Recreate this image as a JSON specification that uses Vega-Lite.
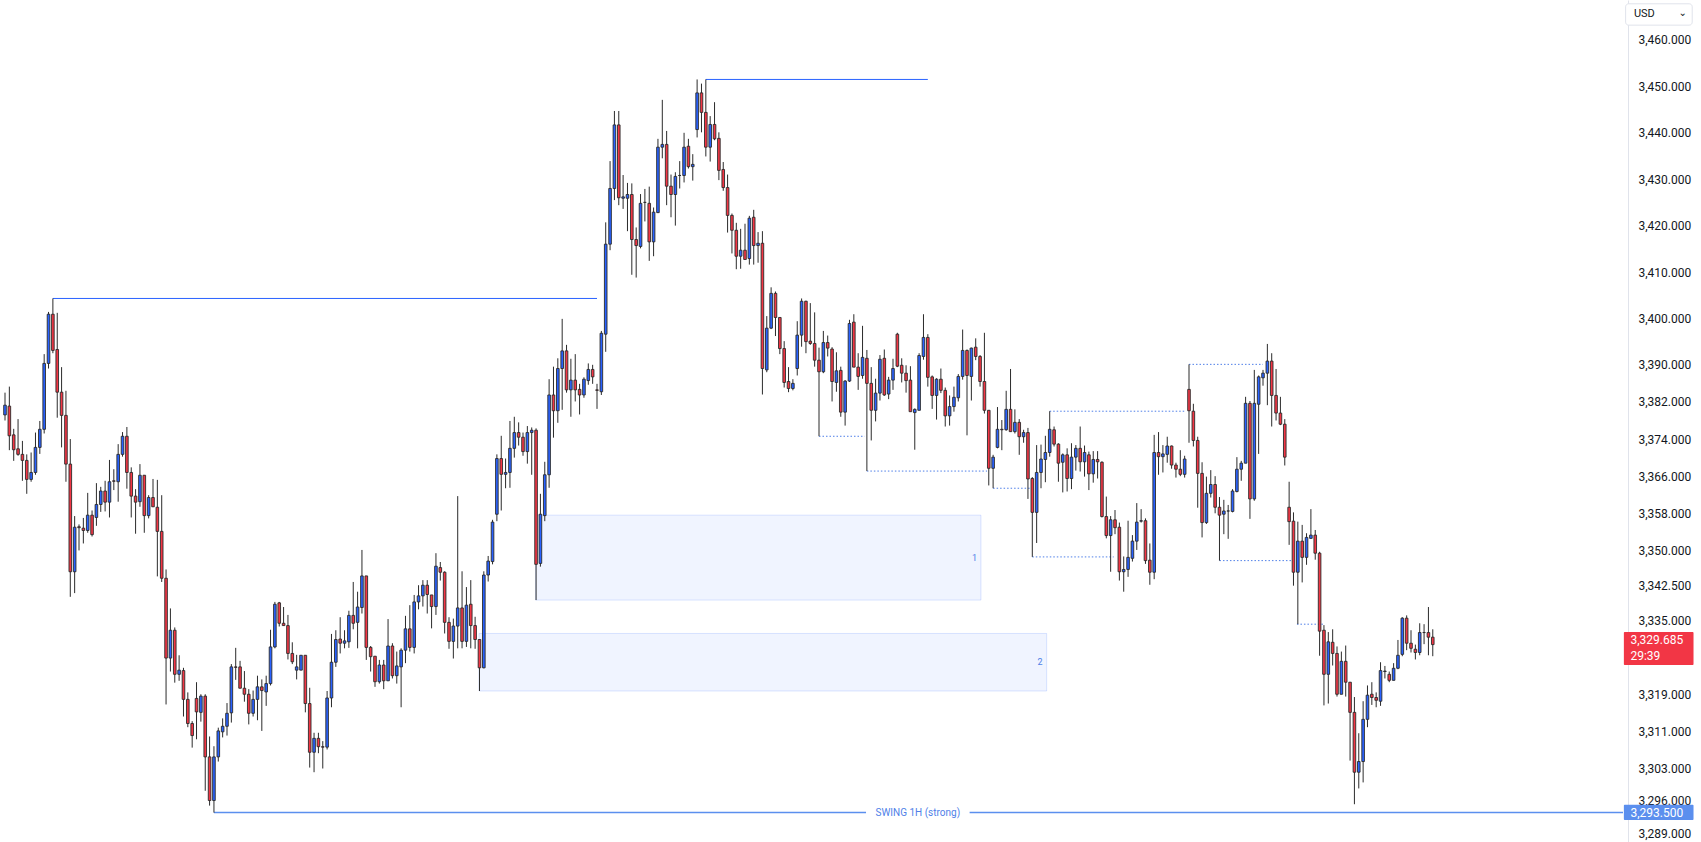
{
"$schema": "https://vega.github.io/schema/vega-lite/v6.json",
"width": 1628, "height": 842,
"autosize": {"type": "none"},
"padding": {"left": 0, "top": 0, "right": 73, "bottom": 0},
"background": "#ffffff",
"config": {"view": {"stroke": null}, "font": "Roboto"},
"resolve": {"axis": {"x": "independent", "y": "independent"}},
"datasets": {
"candles": [
{"i":0,"o":3379.2,"h":3384,"l":3378,"c":3381.3},
{"i":1,"o":3381.1,"h":3385.3,"l":3371.6,"c":3374.7},
{"i":2,"o":3374.9,"h":3376.2,"l":3369.3,"c":3371.7},
{"i":3,"o":3371.9,"h":3378.3,"l":3370.4,"c":3370.7},
{"i":4,"o":3370.7,"h":3373.6,"l":3365.0,"c":3369.4},
{"i":5,"o":3369.4,"h":3370.7,"l":3362.2,"c":3365.3},
{"i":6,"o":3365.3,"h":3371.1,"l":3364.8,"c":3366.8},
{"i":7,"o":3366.8,"h":3375.4,"l":3366.3,"c":3372.2},
{"i":8,"o":3372.2,"h":3377.9,"l":3370.8,"c":3376.1},
{"i":9,"o":3376.1,"h":3392.3,"l":3375.2,"c":3390.3},
{"i":10,"o":3390.3,"h":3401.4,"l":3389.2,"c":3400.9},
{"i":11,"o":3400.9,"h":3404.3,"l":3392.5,"c":3393.1},
{"i":12,"o":3393.3,"h":3401.2,"l":3378.6,"c":3384.1},
{"i":13,"o":3384.1,"h":3389.5,"l":3372.2,"c":3379.1},
{"i":14,"o":3379.1,"h":3384.4,"l":3364.8,"c":3368.6},
{"i":15,"o":3368.6,"h":3374.0,"l":3340.0,"c":3345.4},
{"i":16,"o":3345.4,"h":3357.4,"l":3340.8,"c":3355.0},
{"i":17,"o":3355.1,"h":3355.6,"l":3350.0,"c":3354.9},
{"i":18,"o":3354.8,"h":3357.0,"l":3351.5,"c":3354.3},
{"i":19,"o":3354.3,"h":3362.4,"l":3353.8,"c":3357.6},
{"i":20,"o":3357.6,"h":3358.6,"l":3353.0,"c":3353.4},
{"i":21,"o":3357.1,"h":3364.5,"l":3355.3,"c":3359.9},
{"i":22,"o":3359.9,"h":3363.7,"l":3358.3,"c":3362.8},
{"i":23,"o":3362.8,"h":3365.0,"l":3358.4,"c":3360.4},
{"i":24,"o":3360.4,"h":3369.5,"l":3357.1,"c":3364.8},
{"i":25,"o":3365.0,"h":3367.5,"l":3363.0,"c":3364.9},
{"i":26,"o":3364.8,"h":3372.9,"l":3360.5,"c":3370.7},
{"i":27,"o":3370.7,"h":3375.5,"l":3370.2,"c":3374.6},
{"i":28,"o":3374.6,"h":3376.6,"l":3363.3,"c":3366.8},
{"i":29,"o":3366.8,"h":3367.9,"l":3357.1,"c":3361.7},
{"i":30,"o":3361.7,"h":3363.2,"l":3353.6,"c":3360.4},
{"i":31,"o":3360.5,"h":3368.6,"l":3359.4,"c":3366.2},
{"i":32,"o":3366.2,"h":3366.2,"l":3353.8,"c":3357.5},
{"i":33,"o":3357.5,"h":3361.9,"l":3356.9,"c":3361.4},
{"i":34,"o":3361.4,"h":3365.4,"l":3359.4,"c":3359.4},
{"i":35,"o":3359.3,"h":3365.2,"l":3344.4,"c":3354.1},
{"i":36,"o":3354.1,"h":3361.9,"l":3343.2,"c":3344.0},
{"i":37,"o":3344.0,"h":3345.9,"l":3316.8,"c":3326.8},
{"i":38,"o":3326.8,"h":3337.5,"l":3323.9,"c":3332.8},
{"i":39,"o":3332.8,"h":3333.4,"l":3321.5,"c":3323.3},
{"i":40,"o":3323.3,"h":3327.4,"l":3321.9,"c":3324.2},
{"i":41,"o":3324.1,"h":3324.7,"l":3314.2,"c":3317.9},
{"i":42,"o":3317.9,"h":3319.4,"l":3311.9,"c":3312.7},
{"i":43,"o":3312.7,"h":3313.2,"l":3307.5,"c":3310.1},
{"i":44,"o":3318.1,"h":3321.6,"l":3309.3,"c":3315.2},
{"i":45,"o":3315.1,"h":3319.0,"l":3313.1,"c":3318.6},
{"i":46,"o":3318.6,"h":3319.0,"l":3298.2,"c":3305.5},
{"i":47,"o":3305.5,"h":3309.9,"l":3295.0,"c":3296.1},
{"i":48,"o":3296.1,"h":3307.8,"l":3293.5,"c":3305.5},
{"i":49,"o":3305.5,"h":3311.8,"l":3304.5,"c":3311.1},
{"i":50,"o":3310.9,"h":3313.8,"l":3309.7,"c":3312.1},
{"i":51,"o":3312.1,"h":3317.1,"l":3310.1,"c":3314.9},
{"i":52,"o":3315.0,"h":3325.5,"l":3312.9,"c":3324.9},
{"i":53,"o":3324.9,"h":3329.0,"l":3322.1,"c":3324.8},
{"i":54,"o":3324.9,"h":3326.2,"l":3320.3,"c":3320.3},
{"i":55,"o":3320.3,"h":3324.0,"l":3317.4,"c":3319.0},
{"i":56,"o":3319.0,"h":3320.1,"l":3312.5,"c":3314.9},
{"i":57,"o":3314.9,"h":3319.8,"l":3314.2,"c":3317.9},
{"i":58,"o":3317.9,"h":3323.0,"l":3313.4,"c":3320.6},
{"i":59,"o":3320.6,"h":3322.2,"l":3311.1,"c":3319.8},
{"i":60,"o":3319.5,"h":3323.0,"l":3316.5,"c":3321.3},
{"i":61,"o":3321.3,"h":3332.9,"l":3320.9,"c":3329.2},
{"i":62,"o":3329.2,"h":3338.9,"l":3328.9,"c":3338.4},
{"i":63,"o":3338.7,"h":3338.9,"l":3333.6,"c":3334.3},
{"i":64,"o":3334.3,"h":3337.8,"l":3333.8,"c":3333.8},
{"i":65,"o":3333.8,"h":3336.1,"l":3326.5,"c":3327.8},
{"i":66,"o":3327.8,"h":3330.2,"l":3325.5,"c":3326.0},
{"i":67,"o":3324.2,"h":3327.5,"l":3322.2,"c":3324.9},
{"i":68,"o":3324.2,"h":3327.4,"l":3324.2,"c":3327.4},
{"i":69,"o":3327.4,"h":3327.4,"l":3315.1,"c":3317.0},
{"i":70,"o":3317.0,"h":3320.4,"l":3303.2,"c":3306.5},
{"i":71,"o":3306.5,"h":3310.7,"l":3302.2,"c":3309.5},
{"i":72,"o":3309.5,"h":3310.7,"l":3306.3,"c":3307.7},
{"i":73,"o":3307.7,"h":3308.9,"l":3303.0,"c":3307.6},
{"i":74,"o":3307.6,"h":3319.7,"l":3307.1,"c":3318.2},
{"i":75,"o":3318.2,"h":3332.0,"l":3316.2,"c":3325.9},
{"i":76,"o":3325.9,"h":3332.8,"l":3324.9,"c":3330.8},
{"i":77,"o":3330.9,"h":3335.6,"l":3327.8,"c":3330.0},
{"i":78,"o":3330.0,"h":3332.8,"l":3328.9,"c":3330.5},
{"i":79,"o":3330.3,"h":3337.0,"l":3329.0,"c":3336.0},
{"i":80,"o":3336.0,"h":3343.2,"l":3333.0,"c":3334.3},
{"i":81,"o":3334.5,"h":3341.1,"l":3328.9,"c":3337.8},
{"i":82,"o":3337.7,"h":3350.1,"l":3336.4,"c":3344.5},
{"i":83,"o":3344.5,"h":3344.5,"l":3326.4,"c":3329.1},
{"i":84,"o":3329.1,"h":3329.4,"l":3323.9,"c":3327.1},
{"i":85,"o":3327.2,"h":3327.2,"l":3320.6,"c":3321.7},
{"i":86,"o":3321.7,"h":3326.4,"l":3321.3,"c":3325.3},
{"i":87,"o":3325.3,"h":3326.4,"l":3320.1,"c":3321.9},
{"i":88,"o":3321.9,"h":3335.2,"l":3321.9,"c":3329.4},
{"i":89,"o":3329.4,"h":3330.0,"l":3322.4,"c":3323.0},
{"i":90,"o":3323.0,"h":3328.2,"l":3321.3,"c":3325.1},
{"i":91,"o":3324.9,"h":3328.9,"l":3316.2,"c":3328.5},
{"i":92,"o":3328.5,"h":3335.9,"l":3325.7,"c":3333.1},
{"i":93,"o":3333.1,"h":3338.2,"l":3328.2,"c":3329.1},
{"i":94,"o":3329.1,"h":3340.4,"l":3327.8,"c":3338.9},
{"i":95,"o":3338.9,"h":3342.5,"l":3337.3,"c":3340.2},
{"i":96,"o":3340.2,"h":3343.6,"l":3337.9,"c":3342.5},
{"i":97,"o":3342.5,"h":3343.6,"l":3336.4,"c":3340.5},
{"i":98,"o":3340.4,"h":3340.4,"l":3333.2,"c":3337.9},
{"i":99,"o":3337.9,"h":3349.4,"l":3336.1,"c":3346.6},
{"i":100,"o":3346.3,"h":3347.5,"l":3343.5,"c":3345.3},
{"i":101,"o":3345.3,"h":3345.5,"l":3332.1,"c":3334.5},
{"i":102,"o":3334.5,"h":3335.6,"l":3328.8,"c":3330.4},
{"i":103,"o":3330.4,"h":3335.3,"l":3326.7,"c":3333.7},
{"i":104,"o":3333.7,"h":3361.7,"l":3328.9,"c":3337.6},
{"i":105,"o":3337.6,"h":3345.5,"l":3328.9,"c":3330.4},
{"i":106,"o":3330.4,"h":3342.1,"l":3329.2,"c":3338.2},
{"i":107,"o":3338.4,"h":3343.6,"l":3328.9,"c":3333.8},
{"i":108,"o":3333.8,"h":3335.7,"l":3328.8,"c":3330.8},
{"i":109,"o":3330.8,"h":3330.8,"l":3319.7,"c":3324.7},
{"i":110,"o":3324.7,"h":3345.5,"l":3324.6,"c":3344.7},
{"i":111,"o":3344.7,"h":3348.8,"l":3343.3,"c":3347.7},
{"i":112,"o":3347.6,"h":3356.6,"l":3347.0,"c":3356.1},
{"i":113,"o":3357.8,"h":3370.7,"l":3356.3,"c":3369.8},
{"i":114,"o":3369.8,"h":3374.7,"l":3358.6,"c":3366.4},
{"i":115,"o":3366.4,"h":3369.8,"l":3363.4,"c":3366.8},
{"i":116,"o":3366.8,"h":3377.9,"l":3363.5,"c":3372.0},
{"i":117,"o":3372.0,"h":3378.8,"l":3370.0,"c":3375.4},
{"i":118,"o":3375.4,"h":3377.6,"l":3372.6,"c":3374.4},
{"i":119,"o":3374.4,"h":3375.4,"l":3370.4,"c":3371.3},
{"i":120,"o":3371.3,"h":3376.8,"l":3368.7,"c":3375.4},
{"i":121,"o":3375.4,"h":3376.5,"l":3366.3,"c":3375.9},
{"i":122,"o":3375.9,"h":3376.3,"l":3339.3,"c":3347.0},
{"i":123,"o":3347.2,"h":3362.2,"l":3346.5,"c":3357.8},
{"i":124,"o":3357.5,"h":3369.1,"l":3356.3,"c":3366.3},
{"i":125,"o":3366.3,"h":3386.9,"l":3363.5,"c":3383.5},
{"i":126,"o":3383.5,"h":3389.6,"l":3374.3,"c":3380.1},
{"i":127,"o":3380.1,"h":3391.4,"l":3377.5,"c":3389.2},
{"i":128,"o":3389.2,"h":3399.9,"l":3380.3,"c":3393.0},
{"i":129,"o":3393.0,"h":3394.3,"l":3384.0,"c":3384.6},
{"i":130,"o":3384.6,"h":3391.3,"l":3378.8,"c":3386.7},
{"i":131,"o":3386.7,"h":3392.3,"l":3382.1,"c":3384.6},
{"i":132,"o":3384.7,"h":3385.9,"l":3379.3,"c":3383.5},
{"i":133,"o":3383.5,"h":3387.3,"l":3382.9,"c":3386.9},
{"i":134,"o":3386.6,"h":3390.3,"l":3385.7,"c":3389.0},
{"i":135,"o":3389.0,"h":3390.0,"l":3385.9,"c":3387.4},
{"i":136,"o":3384.6,"h":3385.9,"l":3380.5,"c":3384.5},
{"i":137,"o":3384.2,"h":3397.3,"l":3383.5,"c":3396.8},
{"i":138,"o":3396.6,"h":3420.7,"l":3392.8,"c":3416.0},
{"i":139,"o":3416.0,"h":3433.9,"l":3414.7,"c":3428.0},
{"i":140,"o":3428.0,"h":3444.7,"l":3425.5,"c":3441.7},
{"i":141,"o":3441.7,"h":3444.7,"l":3424.4,"c":3426.0},
{"i":142,"o":3425.9,"h":3430.9,"l":3423.6,"c":3426.2},
{"i":143,"o":3425.9,"h":3429.2,"l":3418.8,"c":3426.7},
{"i":144,"o":3426.7,"h":3429.1,"l":3409.4,"c":3417.0},
{"i":145,"o":3417.0,"h":3419.6,"l":3408.8,"c":3415.7},
{"i":146,"o":3415.5,"h":3426.8,"l":3415.1,"c":3424.8},
{"i":147,"o":3425.0,"h":3427.9,"l":3420.9,"c":3425.0},
{"i":148,"o":3424.8,"h":3428.4,"l":3412.4,"c":3416.5},
{"i":149,"o":3416.5,"h":3423.9,"l":3413.4,"c":3422.9},
{"i":150,"o":3422.8,"h":3438.7,"l":3422.7,"c":3436.9},
{"i":151,"o":3436.9,"h":3447.1,"l":3434.5,"c":3437.5},
{"i":152,"o":3437.5,"h":3440.4,"l":3424.4,"c":3428.5},
{"i":153,"o":3428.5,"h":3431.0,"l":3421.8,"c":3426.7},
{"i":154,"o":3426.7,"h":3431.5,"l":3420.0,"c":3430.6},
{"i":155,"o":3430.8,"h":3433.9,"l":3428.0,"c":3430.8},
{"i":156,"o":3430.8,"h":3440.0,"l":3429.3,"c":3436.9},
{"i":157,"o":3437.1,"h":3438.7,"l":3432.3,"c":3432.7},
{"i":158,"o":3432.7,"h":3435.4,"l":3429.7,"c":3433.2},
{"i":159,"o":3440.7,"h":3451.5,"l":3439.0,"c":3448.6},
{"i":160,"o":3448.6,"h":3450.6,"l":3440.1,"c":3444.4},
{"i":161,"o":3444.4,"h":3451.5,"l":3434.9,"c":3436.9},
{"i":162,"o":3436.9,"h":3443.6,"l":3433.8,"c":3441.8},
{"i":163,"o":3441.8,"h":3446.6,"l":3438.4,"c":3438.7},
{"i":164,"o":3438.8,"h":3440.1,"l":3429.8,"c":3431.9},
{"i":165,"o":3432.1,"h":3433.7,"l":3427.5,"c":3428.2},
{"i":166,"o":3428.2,"h":3431.0,"l":3418.5,"c":3422.2},
{"i":167,"o":3422.2,"h":3422.6,"l":3414.0,"c":3419.0},
{"i":168,"o":3419.0,"h":3420.6,"l":3410.6,"c":3413.4},
{"i":169,"o":3413.4,"h":3419.3,"l":3410.7,"c":3414.7},
{"i":170,"o":3414.7,"h":3420.4,"l":3412.7,"c":3412.7},
{"i":171,"o":3412.9,"h":3422.1,"l":3411.6,"c":3421.6},
{"i":172,"o":3421.8,"h":3423.4,"l":3411.6,"c":3415.7},
{"i":173,"o":3415.7,"h":3418.6,"l":3412.0,"c":3416.2},
{"i":174,"o":3416.2,"h":3418.8,"l":3383.6,"c":3389.2},
{"i":175,"o":3388.9,"h":3400.5,"l":3388.4,"c":3397.9},
{"i":176,"o":3397.9,"h":3406.7,"l":3397.7,"c":3405.4},
{"i":177,"o":3405.4,"h":3405.8,"l":3396.2,"c":3400.2},
{"i":178,"o":3400.2,"h":3400.2,"l":3392.3,"c":3393.5},
{"i":179,"o":3393.5,"h":3395.1,"l":3385.1,"c":3386.2},
{"i":180,"o":3386.4,"h":3389.5,"l":3384.1,"c":3384.9},
{"i":181,"o":3384.9,"h":3386.9,"l":3384.5,"c":3386.0},
{"i":182,"o":3389.2,"h":3399.4,"l":3387.7,"c":3396.4},
{"i":183,"o":3396.4,"h":3404.3,"l":3393.9,"c":3403.7},
{"i":184,"o":3403.7,"h":3403.8,"l":3392.5,"c":3395.0},
{"i":185,"o":3395.1,"h":3403.3,"l":3394.3,"c":3394.6},
{"i":186,"o":3394.6,"h":3401.3,"l":3389.6,"c":3391.0},
{"i":187,"o":3391.0,"h":3393.7,"l":3374.6,"c":3388.5},
{"i":188,"o":3388.5,"h":3397.3,"l":3388.2,"c":3394.8},
{"i":189,"o":3394.8,"h":3396.3,"l":3391.8,"c":3393.6},
{"i":190,"o":3393.4,"h":3393.8,"l":3382.1,"c":3386.4},
{"i":191,"o":3386.2,"h":3392.7,"l":3384.2,"c":3388.7},
{"i":192,"o":3388.8,"h":3389.6,"l":3378.8,"c":3379.8},
{"i":193,"o":3379.8,"h":3386.7,"l":3376.9,"c":3386.5},
{"i":194,"o":3386.5,"h":3399.7,"l":3386.3,"c":3398.9},
{"i":195,"o":3399.2,"h":3400.9,"l":3389.5,"c":3389.5},
{"i":196,"o":3389.5,"h":3392.5,"l":3384.6,"c":3387.5},
{"i":197,"o":3387.7,"h":3398.4,"l":3387.0,"c":3391.6},
{"i":198,"o":3391.4,"h":3393.2,"l":3367.1,"c":3386.0},
{"i":199,"o":3386.0,"h":3389.5,"l":3373.7,"c":3380.2},
{"i":200,"o":3380.2,"h":3387.0,"l":3377.8,"c":3383.9},
{"i":201,"o":3383.9,"h":3392.1,"l":3382.3,"c":3391.2},
{"i":202,"o":3391.4,"h":3393.3,"l":3383.3,"c":3383.5},
{"i":203,"o":3383.7,"h":3387.4,"l":3382.6,"c":3386.7},
{"i":204,"o":3386.7,"h":3391.3,"l":3384.6,"c":3389.2},
{"i":205,"o":3396.6,"h":3396.9,"l":3389.5,"c":3389.7},
{"i":206,"o":3389.9,"h":3391.4,"l":3386.2,"c":3388.2},
{"i":207,"o":3388.2,"h":3389.9,"l":3384.0,"c":3386.6},
{"i":208,"o":3386.7,"h":3389.7,"l":3379.9,"c":3379.9},
{"i":209,"o":3379.7,"h":3380.6,"l":3371.7,"c":3380.4},
{"i":210,"o":3380.2,"h":3392.5,"l":3380.2,"c":3392.0},
{"i":211,"o":3391.8,"h":3400.9,"l":3391.1,"c":3395.9},
{"i":212,"o":3395.9,"h":3396.6,"l":3385.3,"c":3387.3},
{"i":213,"o":3387.4,"h":3387.7,"l":3380.5,"c":3383.4},
{"i":214,"o":3383.4,"h":3387.1,"l":3378.2,"c":3386.9},
{"i":215,"o":3386.9,"h":3389.2,"l":3383.9,"c":3384.5},
{"i":216,"o":3384.5,"h":3385.1,"l":3376.7,"c":3379.0},
{"i":217,"o":3379.0,"h":3383.4,"l":3376.9,"c":3381.0},
{"i":218,"o":3381.0,"h":3385.3,"l":3379.9,"c":3383.0},
{"i":219,"o":3382.9,"h":3388.0,"l":3382.1,"c":3387.5},
{"i":220,"o":3387.5,"h":3397.6,"l":3386.8,"c":3393.1},
{"i":221,"o":3393.1,"h":3393.3,"l":3374.8,"c":3387.7},
{"i":222,"o":3387.5,"h":3393.7,"l":3382.3,"c":3393.6},
{"i":223,"o":3393.8,"h":3395.7,"l":3391.0,"c":3391.8},
{"i":224,"o":3391.8,"h":3392.1,"l":3385.3,"c":3386.4},
{"i":225,"o":3386.4,"h":3396.9,"l":3379.5,"c":3380.2},
{"i":226,"o":3380.2,"h":3380.2,"l":3364.0,"c":3367.7},
{"i":227,"o":3367.7,"h":3370.6,"l":3363.4,"c":3370.1},
{"i":228,"o":3372.2,"h":3380.9,"l":3372.0,"c":3376.1},
{"i":229,"o":3376.1,"h":3378.1,"l":3371.6,"c":3376.0},
{"i":230,"o":3376.0,"h":3384.4,"l":3375.8,"c":3380.4},
{"i":231,"o":3380.4,"h":3389.1,"l":3375.6,"c":3375.6},
{"i":232,"o":3375.6,"h":3380.4,"l":3375.2,"c":3377.6},
{"i":233,"o":3377.6,"h":3378.3,"l":3370.6,"c":3374.5},
{"i":234,"o":3374.5,"h":3376.0,"l":3373.2,"c":3375.4},
{"i":235,"o":3375.4,"h":3376.4,"l":3361.1,"c":3365.4},
{"i":236,"o":3365.5,"h":3365.8,"l":3348.6,"c":3358.2},
{"i":237,"o":3358.2,"h":3372.7,"l":3351.6,"c":3366.8},
{"i":238,"o":3366.8,"h":3372.8,"l":3363.4,"c":3369.7},
{"i":239,"o":3369.6,"h":3374.7,"l":3364.7,"c":3371.1},
{"i":240,"o":3371.1,"h":3380.0,"l":3370.2,"c":3376.1},
{"i":241,"o":3376.0,"h":3376.7,"l":3372.4,"c":3372.9},
{"i":242,"o":3372.9,"h":3373.1,"l":3364.8,"c":3368.8},
{"i":243,"o":3369.0,"h":3370.9,"l":3362.5,"c":3370.6},
{"i":244,"o":3370.6,"h":3372.0,"l":3362.7,"c":3365.5},
{"i":245,"o":3365.5,"h":3373.1,"l":3363.2,"c":3370.1},
{"i":246,"o":3370.1,"h":3372.7,"l":3367.2,"c":3372.0},
{"i":247,"o":3372.0,"h":3376.7,"l":3367.0,"c":3369.1},
{"i":248,"o":3369.1,"h":3372.6,"l":3365.9,"c":3371.1},
{"i":249,"o":3370.6,"h":3371.3,"l":3363.0,"c":3366.5},
{"i":250,"o":3366.5,"h":3371.4,"l":3364.6,"c":3369.6},
{"i":251,"o":3369.6,"h":3371.4,"l":3365.5,"c":3369.1},
{"i":252,"o":3369.0,"h":3369.2,"l":3357.1,"c":3357.3},
{"i":253,"o":3357.3,"h":3361.6,"l":3352.6,"c":3353.2},
{"i":254,"o":3353.2,"h":3357.4,"l":3345.4,"c":3356.6},
{"i":255,"o":3356.6,"h":3358.7,"l":3353.5,"c":3354.9},
{"i":256,"o":3355.0,"h":3356.0,"l":3343.5,"c":3345.4},
{"i":257,"o":3345.4,"h":3348.7,"l":3341.1,"c":3345.9},
{"i":258,"o":3345.9,"h":3356.4,"l":3344.3,"c":3348.5},
{"i":259,"o":3348.3,"h":3353.3,"l":3347.6,"c":3352.0},
{"i":260,"o":3352.0,"h":3360.2,"l":3350.1,"c":3356.1},
{"i":261,"o":3356.3,"h":3358.9,"l":3356.0,"c":3356.4},
{"i":262,"o":3356.4,"h":3356.9,"l":3347.1,"c":3347.8},
{"i":263,"o":3347.9,"h":3351.5,"l":3342.6,"c":3345.3},
{"i":264,"o":3345.3,"h":3374.9,"l":3343.8,"c":3371.1},
{"i":265,"o":3371.1,"h":3375.5,"l":3366.3,"c":3370.2},
{"i":266,"o":3370.2,"h":3372.7,"l":3366.8,"c":3370.8},
{"i":267,"o":3370.7,"h":3374.5,"l":3368.9,"c":3372.5},
{"i":268,"o":3372.5,"h":3372.6,"l":3367.6,"c":3368.4},
{"i":269,"o":3368.4,"h":3368.9,"l":3365.7,"c":3367.5},
{"i":270,"o":3367.5,"h":3371.6,"l":3366.0,"c":3366.4},
{"i":271,"o":3366.4,"h":3370.4,"l":3365.7,"c":3369.7},
{"i":272,"o":3384.7,"h":3390.1,"l":3373.2,"c":3380.1},
{"i":273,"o":3380.0,"h":3381.6,"l":3372.4,"c":3373.7},
{"i":274,"o":3373.7,"h":3374.5,"l":3359.2,"c":3366.6},
{"i":275,"o":3366.6,"h":3369.0,"l":3352.8,"c":3356.0},
{"i":276,"o":3356.0,"h":3365.9,"l":3355.7,"c":3362.3},
{"i":277,"o":3362.3,"h":3367.3,"l":3361.4,"c":3364.2},
{"i":278,"o":3364.2,"h":3366.0,"l":3358.0,"c":3359.3},
{"i":279,"o":3359.3,"h":3361.5,"l":3347.8,"c":3357.6},
{"i":280,"o":3357.8,"h":3360.9,"l":3353.5,"c":3358.5},
{"i":281,"o":3358.5,"h":3359.8,"l":3352.5,"c":3358.5},
{"i":282,"o":3358.4,"h":3363.2,"l":3358.2,"c":3362.8},
{"i":283,"o":3362.7,"h":3370.1,"l":3362.5,"c":3367.5},
{"i":284,"o":3367.5,"h":3369.3,"l":3365.0,"c":3368.8},
{"i":285,"o":3368.8,"h":3383.1,"l":3368.8,"c":3381.7},
{"i":286,"o":3381.7,"h":3382.2,"l":3356.8,"c":3361.1},
{"i":287,"o":3361.1,"h":3388.9,"l":3360.7,"c":3381.7},
{"i":288,"o":3381.5,"h":3387.7,"l":3370.8,"c":3387.4},
{"i":289,"o":3387.2,"h":3388.9,"l":3385.5,"c":3388.2},
{"i":290,"o":3388.2,"h":3394.5,"l":3381.3,"c":3390.8},
{"i":291,"o":3390.8,"h":3392.5,"l":3376.7,"c":3383.4},
{"i":292,"o":3383.4,"h":3389.1,"l":3378.0,"c":3379.6},
{"i":293,"o":3379.6,"h":3383.1,"l":3377.0,"c":3377.2},
{"i":294,"o":3377.2,"h":3378.3,"l":3368.3,"c":3370.1},
{"i":295,"o":3359.3,"h":3364.8,"l":3351.2,"c":3356.2},
{"i":296,"o":3356.3,"h":3358.2,"l":3342.4,"c":3345.3},
{"i":297,"o":3345.3,"h":3356.2,"l":3334.1,"c":3352.0},
{"i":298,"o":3352.0,"h":3355.5,"l":3343.1,"c":3348.5},
{"i":299,"o":3348.5,"h":3353.7,"l":3346.9,"c":3352.8},
{"i":300,"o":3352.6,"h":3358.9,"l":3352.5,"c":3353.3},
{"i":301,"o":3353.3,"h":3354.4,"l":3348.0,"c":3349.4},
{"i":302,"o":3349.4,"h":3349.7,"l":3327.3,"c":3332.6},
{"i":303,"o":3332.8,"h":3333.9,"l":3316.6,"c":3323.3},
{"i":304,"o":3323.3,"h":3332.4,"l":3317.0,"c":3330.3},
{"i":305,"o":3330.2,"h":3333.0,"l":3325.2,"c":3327.8},
{"i":306,"o":3327.8,"h":3329.3,"l":3318.5,"c":3319.0},
{"i":307,"o":3319.0,"h":3328.2,"l":3319.0,"c":3326.1},
{"i":308,"o":3326.1,"h":3329.5,"l":3318.5,"c":3321.6},
{"i":309,"o":3321.6,"h":3321.6,"l":3304.7,"c":3315.1},
{"i":310,"o":3315.1,"h":3318.4,"l":3295.3,"c":3302.2},
{"i":311,"o":3302.2,"h":3310.6,"l":3298.7,"c":3304.5},
{"i":312,"o":3304.5,"h":3317.5,"l":3300.0,"c":3313.6},
{"i":313,"o":3313.6,"h":3320.9,"l":3311.9,"c":3318.8},
{"i":314,"o":3319.0,"h":3321.6,"l":3316.7,"c":3318.3},
{"i":315,"o":3318.3,"h":3319.4,"l":3316.2,"c":3317.7},
{"i":316,"o":3317.5,"h":3325.9,"l":3316.5,"c":3324.1},
{"i":317,"o":3323.9,"h":3325.1,"l":3322.4,"c":3324.0},
{"i":318,"o":3323.3,"h":3323.9,"l":3321.6,"c":3322.0},
{"i":319,"o":3322.0,"h":3325.7,"l":3322.0,"c":3324.6},
{"i":320,"o":3324.6,"h":3330.7,"l":3324.4,"c":3327.4},
{"i":321,"o":3327.6,"h":3335.6,"l":3327.2,"c":3335.4},
{"i":322,"o":3335.4,"h":3336.0,"l":3328.5,"c":3330.0},
{"i":323,"o":3330.0,"h":3332.8,"l":3328.0,"c":3328.9},
{"i":324,"o":3328.7,"h":3329.7,"l":3326.5,"c":3328.0},
{"i":325,"o":3328.0,"h":3334.3,"l":3327.4,"c":3332.3},
{"i":326,"o":3332.3,"h":3334.1,"l":3329.8,"c":3332.3},
{"i":327,"o":3332.3,"h":3337.8,"l":3327.4,"c":3331.3},
{"i":328,"o":3331.3,"h":3333.0,"l":3327.2,"c":3329.7}
],
"solid": [
{"i1":11,"i2":136,"p":3404.3},
{"i1":161,"i2":212,"p":3451.5}
],
"swing": [
{"i1":48,"i2":197.8,"p":3293.5},
{"i1":221.6,"i2":371.7,"p":3293.5}
],
"dotted": [
{"i1":187,"i2":197.5,"p":3374.6},
{"i1":198,"i2":225.6,"p":3367.1},
{"i1":227,"i2":235.7,"p":3363.4},
{"i1":236,"i2":254.7,"p":3348.6},
{"i1":240,"i2":271,"p":3380.0},
{"i1":272,"i2":289,"p":3390.1},
{"i1":279,"i2":295.7,"p":3347.8},
{"i1":296.8,"i2":303,"p":3334.1}
],
"zones": [
{"i1":121.9,"i2":224.2,"p1":3339.3,"p2":3357.6,"label":"1","li":222.7,"pm":3348.4},
{"i1":108.9,"i2":239.3,"p1":3319.7,"p2":3332.1,"label":"2","li":237.8,"pm":3325.9}
],
"swingText": [{"i":209.7,"p":3293.5,"t":"SWING 1H (strong)"}],
"lastBox": [{"i1":371.9,"i2":387.9,"p1":3332.4,"p2":3325.3}],
"lastText": [{"i":373.4,"p":3330.6,"t":"3,329.685"},{"i":373.4,"p":3327.3,"t":"29:39"}],
"swingBox": [{"i1":371.9,"i2":387.9,"p1":3295.2,"p2":3291.9}],
"swingBoxText": [{"i":373.4,"p":3293.5,"t":"3,293.500"}],
"usdBox": [{"i1":372.3,"i2":387.6,"p1":3467.8,"p2":3463.2}],
"usdText": [{"i":374.2,"p":3465.5,"t":"USD"}],
"usdChevron": [{"i":385.4,"p":3465.9,"t":"⌄"}]
},
"layer": [
{
"data": {"name": "zones"},
"mark": {"type": "rect", "fill": "#2962ff", "fillOpacity": 0.07, "stroke": "#2962ff", "strokeOpacity": 0.16, "strokeWidth": 1},
"encoding": {
"x": {"field": "i1", "type": "quantitative", "scale": {"domain": [0, 371.7], "nice": false, "zero": false}, "axis": null},
"x2": {"field": "i2"},
"y": {"field": "p1", "type": "quantitative", "scale": {"domain": [3287.16, 3468.62], "nice": false, "zero": false},
"axis": {"orient": "right", "title": null, "values": [3289, 3296, 3303, 3311, 3319, 3335, 3342.5, 3350, 3358, 3366, 3374, 3382, 3390, 3400, 3410, 3420, 3430, 3440, 3450, 3460], "format": ",.3f", "ticks": false, "grid": false, "domain": true, "domainColor": "#e0e3eb", "labelPadding": 10, "labelFontSize": 12, "labelFont": "Roboto", "labelColor": "#131722", "labelAlign": "left", "labelBaseline": "middle"}},
"y2": {"field": "p2"}
}
},
{
"data": {"name": "zones"},
"mark": {"type": "text", "fontSize": 9, "color": "#4f7fe8", "align": "center", "baseline": "middle"},
"encoding": {
"x": {"field": "li", "type": "quantitative", "axis": null},
"y": {"field": "pm", "type": "quantitative", "axis": null},
"text": {"field": "label"}
}
},
{
"data": {"name": "solid"},
"mark": {"type": "rule", "color": "#2962ff", "strokeWidth": 1},
"encoding": {
"x": {"field": "i1", "type": "quantitative", "axis": null},
"x2": {"field": "i2"},
"y": {"field": "p", "type": "quantitative", "axis": null}
}
},
{
"data": {"name": "swing"},
"mark": {"type": "rule", "color": "#5b8fee", "strokeWidth": 1.5},
"encoding": {
"x": {"field": "i1", "type": "quantitative", "axis": null},
"x2": {"field": "i2"},
"y": {"field": "p", "type": "quantitative", "axis": null}
}
},
{
"data": {"name": "swingText"},
"mark": {"type": "text", "fontSize": 10, "color": "#4f7fe8", "align": "center", "baseline": "middle"},
"encoding": {
"x": {"field": "i", "type": "quantitative", "axis": null},
"y": {"field": "p", "type": "quantitative", "axis": null},
"text": {"field": "t"}
}
},
{
"data": {"name": "dotted"},
"mark": {"type": "rule", "color": "#4f7fe8", "strokeWidth": 1, "strokeDash": [1.5, 2]},
"encoding": {
"x": {"field": "i1", "type": "quantitative", "axis": null},
"x2": {"field": "i2"},
"y": {"field": "p", "type": "quantitative", "axis": null}
}
},
{
"data": {"name": "candles"},
"mark": {"type": "rule", "color": "#2b2b2b", "strokeWidth": 1, "clip": true},
"encoding": {
"x": {"field": "i", "type": "quantitative", "axis": null},
"y": {"field": "l", "type": "quantitative", "axis": null},
"y2": {"field": "h"}
}
},
{
"data": {"name": "candles"},
"mark": {"type": "bar", "size": 2.6, "stroke": "#2b2b2b", "strokeWidth": 0.9, "clip": true},
"encoding": {
"x": {"field": "i", "type": "quantitative", "axis": null},
"y": {"field": "o", "type": "quantitative", "axis": null},
"y2": {"field": "c"},
"color": {"condition": {"test": "datum.c >= datum.o", "value": "#2962ff"}, "value": "#f23645"}
}
},
{
"data": {"name": "lastBox"},
"mark": {"type": "rect", "fill": "#f23645", "cornerRadius": 1},
"encoding": {
"x": {"field": "i1", "type": "quantitative", "axis": null},
"x2": {"field": "i2"},
"y": {"field": "p1", "type": "quantitative", "axis": null},
"y2": {"field": "p2"}
}
},
{
"data": {"name": "lastText"},
"mark": {"type": "text", "fontSize": 12, "color": "#ffffff", "align": "left", "baseline": "middle", "font": "Roboto"},
"encoding": {
"x": {"field": "i", "type": "quantitative", "axis": null},
"y": {"field": "p", "type": "quantitative", "axis": null},
"text": {"field": "t"}
}
},
{
"data": {"name": "swingBox"},
"mark": {"type": "rect", "fill": "#5b8fee", "cornerRadius": 1},
"encoding": {
"x": {"field": "i1", "type": "quantitative", "axis": null},
"x2": {"field": "i2"},
"y": {"field": "p1", "type": "quantitative", "axis": null},
"y2": {"field": "p2"}
}
},
{
"data": {"name": "swingBoxText"},
"mark": {"type": "text", "fontSize": 12, "color": "#ffffff", "align": "left", "baseline": "middle", "font": "Roboto"},
"encoding": {
"x": {"field": "i", "type": "quantitative", "axis": null},
"y": {"field": "p", "type": "quantitative", "axis": null},
"text": {"field": "t"}
}
},
{
"data": {"name": "usdBox"},
"mark": {"type": "rect", "fill": "#ffffff", "stroke": "#e0e3eb", "strokeWidth": 1, "cornerRadius": 3},
"encoding": {
"x": {"field": "i1", "type": "quantitative", "axis": null},
"x2": {"field": "i2"},
"y": {"field": "p1", "type": "quantitative", "axis": null},
"y2": {"field": "p2"}
}
},
{
"data": {"name": "usdText"},
"mark": {"type": "text", "fontSize": 11, "color": "#131722", "align": "left", "baseline": "middle", "font": "Roboto"},
"encoding": {
"x": {"field": "i", "type": "quantitative", "axis": null},
"y": {"field": "p", "type": "quantitative", "axis": null},
"text": {"field": "t"}
}
},
{
"data": {"name": "usdChevron"},
"mark": {"type": "text", "fontSize": 10, "color": "#131722", "align": "center", "baseline": "middle", "font": "DejaVu Sans"},
"encoding": {
"x": {"field": "i", "type": "quantitative", "axis": null},
"y": {"field": "p", "type": "quantitative", "axis": null},
"text": {"field": "t"}
}
}
]
}
